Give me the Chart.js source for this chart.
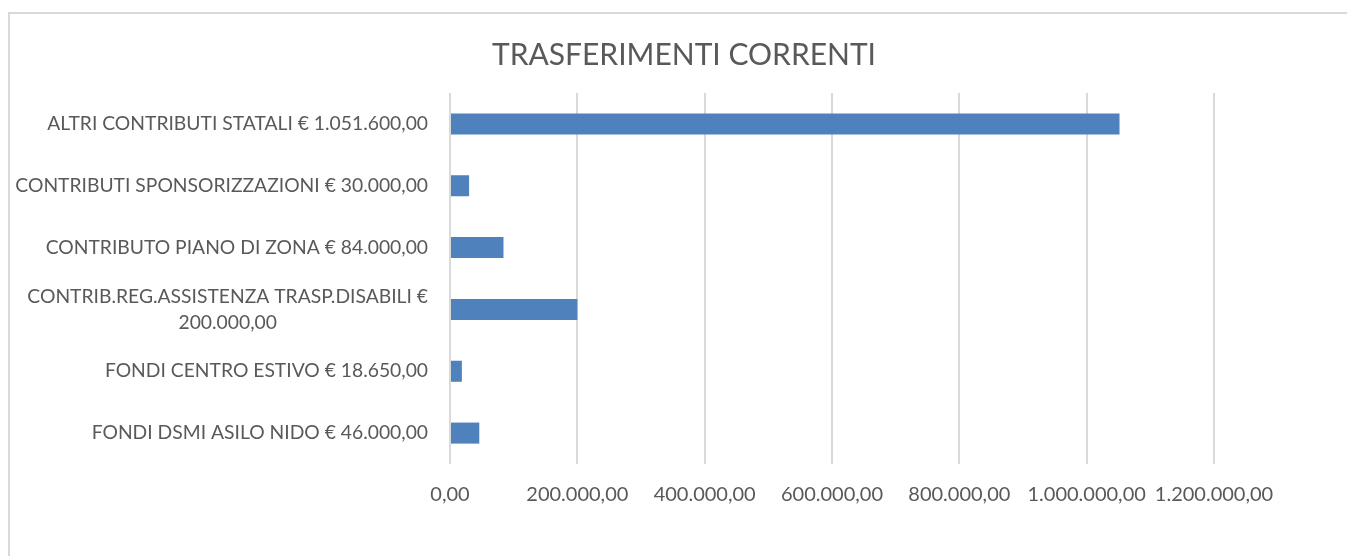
<!DOCTYPE html>
<html>
<head>
<meta charset="utf-8">
<script src="https://cdn.jsdelivr.net/npm/chart.js@4.4.1/dist/chart.umd.min.js"></script>
<style>
  html, body { margin: 0; padding: 0; background: #ffffff; }
  #wrap { position: relative; width: 1347px; height: 556px; overflow: hidden; }
  #frame { position: absolute; left: 8px; top: 12px; width: 1400px; height: 600px;
           border-left: 2px solid #d9d9d9; border-top: 2px solid #d9d9d9; box-sizing: border-box; }
  #c { position: absolute; left: 0; top: 0; }
</style>
</head>
<body>
<div id="wrap">
  <div id="frame"></div>
  <canvas id="c" width="1347" height="556"></canvas>
</div>
<script>
const chartTitle = 'TRASFERIMENTI CORRENTI';
const categories = [
  ['ALTRI CONTRIBUTI STATALI € 1.051.600,00'],
  ['CONTRIBUTI SPONSORIZZAZIONI € 30.000,00'],
  ['CONTRIBUTO PIANO DI ZONA € 84.000,00'],
  ['CONTRIB.REG.ASSISTENZA TRASP.DISABILI €', '200.000,00'],
  ['FONDI CENTRO ESTIVO € 18.650,00'],
  ['FONDI DSMI ASILO NIDO € 46.000,00']
];
const values = [1051600, 30000, 84000, 200000, 18650, 46000];
const xTickValues = [0, 200000, 400000, 600000, 800000, 1000000, 1200000];
const xTickLabels = ['0,00', '200.000,00', '400.000,00', '600.000,00', '800.000,00', '1.000.000,00', '1.200.000,00'];

const FONT = 'Lato';
const TEXT = '#595959';
const LABEL_SIZE = 19.3;

const textPlugin = {
  id: 'texts',
  afterDraw(chart) {
    const ctx = chart.ctx;
    const ys = chart.scales.y;
    const rightX = ys.right - 22;
    ctx.save();
    // title
    ctx.font = '30px ' + FONT;
    ctx.fillStyle = TEXT;
    ctx.textAlign = 'center';
    ctx.textBaseline = 'middle';
    ctx.fillText(chartTitle, 684, 55);
    // category labels
    ctx.font = LABEL_SIZE + 'px ' + FONT;
    const lh = 26;
    chart.data.labels.forEach((lines, i) => {
      const cy = ys.getPixelForTick(i);
      const widest = Math.max(...lines.map(l => ctx.measureText(l).width));
      const cx = rightX - widest / 2;
      const y0 = cy - (lines.length - 1) * lh / 2;
      lines.forEach((l, k) => ctx.fillText(l, cx, y0 + k * lh));
    });
    ctx.restore();
  }
};

new Chart(document.getElementById('c'), {
  type: 'bar',
  data: {
    labels: categories,
    datasets: [{
      data: values,
      backgroundColor: '#4f81bd',
      borderWidth: 0,
      barPercentage: 0.34,
      categoryPercentage: 1
    }]
  },
  options: {
    indexAxis: 'y',
    responsive: false,
    animation: false,
    layout: { padding: { left: 22, right: 133, top: 93, bottom: 0 } },
    plugins: {
      legend: { display: false },
      tooltip: { enabled: false },
      title: { display: false }
    },
    scales: {
      x: {
        min: 0,
        max: 1200000,
        afterBuildTicks(scale) { scale.ticks = xTickValues.map(v => ({ value: v })); },
        afterFit(scale) { scale.height = 92; },
        grid: { color: '#d9d9d9', lineWidth: 2, drawTicks: false },
        border: { display: false },
        ticks: {
          color: TEXT,
          font: { family: FONT, size: 20 },
          padding: 19,
          maxRotation: 0,
          autoSkip: false,
          callback: (v, i) => xTickLabels[i]
        }
      },
      y: {
        afterFit(scale) { scale.width = 428; },
        grid: { display: false },
        border: { display: false },
        ticks: { display: false }
      }
    }
  },
  plugins: [textPlugin]
});
</script>
</body>
</html>
